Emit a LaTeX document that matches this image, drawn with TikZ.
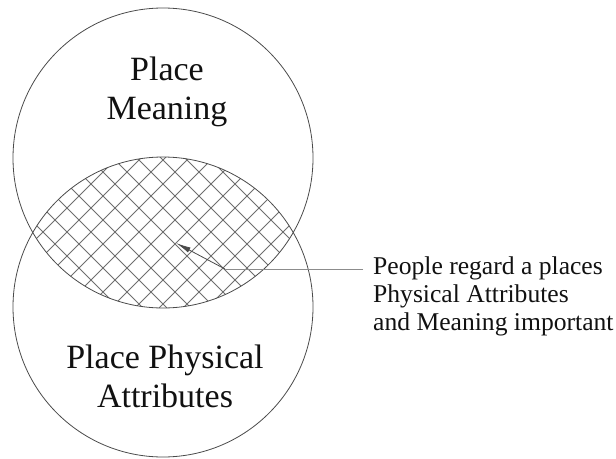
\documentclass[tikz,border=0pt]{standalone}
\usepackage{fontspec}
\setmainfont{Liberation Serif}
\usepackage{xcolor}
\usepackage{tikz}
\usetikzlibrary{positioning, arrows.meta}
\definecolor{vRim}{HTML}{4A4A4A}
\definecolor{vHatch}{HTML}{6E6E6E}
\definecolor{vLead}{HTML}{8C8C8C}
\definecolor{vInk}{HTML}{111111}

\begin{document}
\begin{tikzpicture}[x=1pt, y=-1pt, >=Latex,
        set/.style={circle, draw=vRim, line width=0.8pt, minimum size=300pt, inner sep=0pt},
        setlabel/.style={align=center, inner sep=0pt, anchor=north, text=vInk,
          font=\fontsize{34}{38.5}\selectfont},
        hatch/.style={draw=vHatch, line width=0.9pt},
        note/.style={align=left, inner sep=0pt, anchor=north west, text=vInk,
          font=\fontsize{25.6}{28}\selectfont}]
      \useasboundingbox (0,0) rectangle (616,458);
      % overlap of the two sets, cross hatched
      \begin{scope}
        \clip (163,158) circle (150pt);
        \clip (163,307) circle (150pt);
        \foreach \k in {-9,...,9} {
          \draw[hatch] (3+\k*24,72) -- (323+\k*24,392);
          \draw[hatch] (3+\k*24,392) -- (323+\k*24,72);
        }
      \end{scope}
      \node[set] (meaning) at (163,158) {};
      \node[set] (physical) at (163,307) {};
      \node[setlabel] (meaninglabel) at (167,57) {Place\\Meaning};
      \node[setlabel] (physicallabel) at (165,345) {Place Physical\\Attributes};
      % callout into the overlap
      \node[note] (both) at (373,257) {People regard a places\\Physical Attributes\\and Meaning important};
      \coordinate (bend) at (225,269);
      \coordinate (tip) at (176,243);
      \draw[vLead, line width=0.9pt, shorten <=10pt] (both.west |- bend) -- (bend);
      \draw[->, vRim, line width=0.8pt, arrows={-Latex[length=15pt,width=5.5pt]}] (bend) -- (tip);
    \end{tikzpicture}
\end{document}
